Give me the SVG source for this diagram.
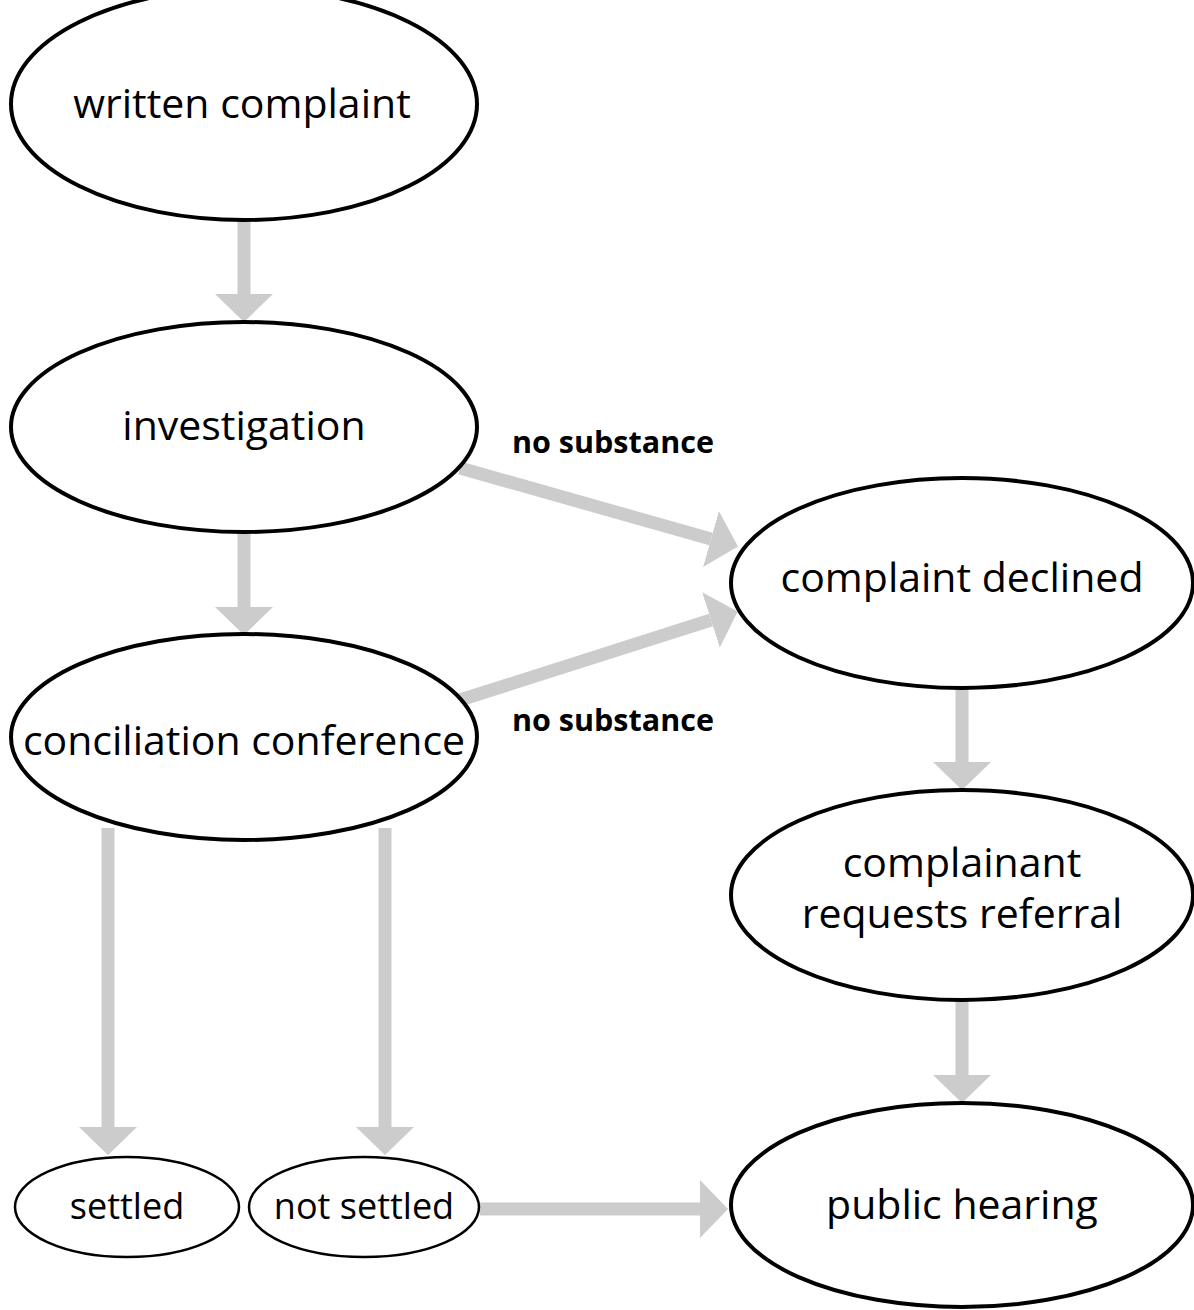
<svg xmlns="http://www.w3.org/2000/svg" width="1194" height="1310" viewBox="0 0 1194 1310">
<style>
.big{fill:#fff;stroke:#000;stroke-width:4}
.small{fill:#fff;stroke:#000;stroke-width:2.5}
.t{font-family:"Open Sans","Noto Sans","DejaVu Sans",sans-serif;font-size:41px;fill:#000;text-anchor:middle}
.ts{font-family:"Open Sans","Noto Sans","DejaVu Sans",sans-serif;font-size:36px;fill:#000;text-anchor:middle}
.lb{font-family:"Open Sans","Noto Sans","DejaVu Sans",sans-serif;font-size:30.5px;font-weight:bold;fill:#000}
.a{stroke:#ccc;stroke-width:13;fill:none;marker-end:url(#ah)}
</style>
<defs>
<marker id="ah" markerUnits="userSpaceOnUse" viewBox="0 0 28 58" markerWidth="28" markerHeight="58" refX="0" refY="29" orient="auto">
<path d="M0,0 L28,29 L0,58 z" fill="#ccc"/>
</marker>
</defs>
<rect width="1194" height="1310" fill="#fff"/>
<g id="connectors">
<line class="a" x1="244" y1="220" x2="244" y2="294"/>
<line class="a" x1="244" y1="532" x2="244" y2="607"/>
<line class="a" x1="460" y1="468" x2="711" y2="539"/>
<line class="a" x1="460" y1="700" x2="711" y2="620"/>
<line class="a" x1="962" y1="688" x2="962" y2="762"/>
<line class="a" x1="962" y1="1000" x2="962" y2="1075"/>
<line class="a" x1="108" y1="828" x2="108" y2="1127"/>
<line class="a" x1="385" y1="828" x2="385" y2="1127"/>
<line class="a" x1="480" y1="1209" x2="700" y2="1209"/>
</g>
<g id="written-complaint">
<ellipse class="big" cx="244" cy="104" rx="233" ry="116"/>
<text class="t" x="242" y="118">written complaint</text>
</g>
<g id="investigation">
<ellipse class="big" cx="244" cy="427" rx="233" ry="105"/>
<text class="t" x="244" y="440">investigation</text>
</g>
<g id="conciliation-conference">
<ellipse class="big" cx="244" cy="737" rx="233" ry="103"/>
<text class="t" x="244" y="755">conciliation conference</text>
</g>
<g id="complaint-declined">
<ellipse class="big" cx="962" cy="583" rx="231" ry="105"/>
<text class="t" x="962" y="592">complaint declined</text>
</g>
<g id="complainant-requests-referral">
<ellipse class="big" cx="962" cy="895" rx="231" ry="105"/>
<text class="t" x="962" y="877">complainant</text>
<text class="t" x="962" y="928">requests referral</text>
</g>
<g id="public-hearing">
<ellipse class="big" cx="962" cy="1205" rx="231" ry="102"/>
<text class="t" x="962" y="1219">public hearing</text>
</g>
<g id="settled">
<ellipse class="small" cx="127" cy="1207" rx="112" ry="50"/>
<text class="ts" x="127" y="1219">settled</text>
</g>
<g id="not-settled">
<ellipse class="small" cx="364" cy="1207" rx="115" ry="50"/>
<text class="ts" x="364" y="1219">not settled</text>
</g>
<text class="lb" x="512" y="453">no substance</text>
<text class="lb" x="512" y="731">no substance</text>
</svg>
